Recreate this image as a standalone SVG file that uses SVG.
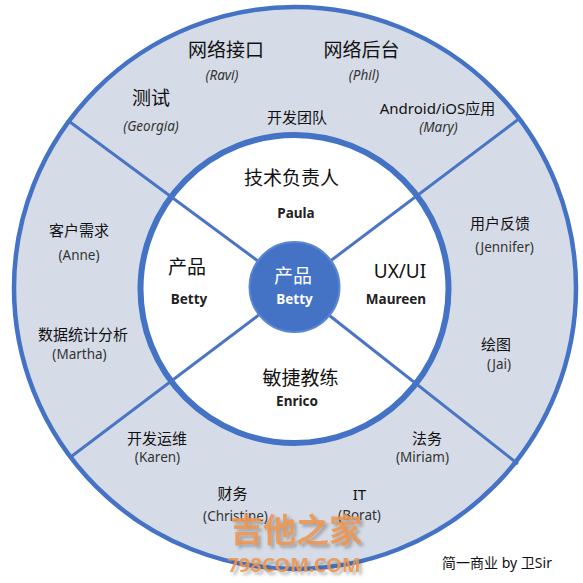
<svg xmlns="http://www.w3.org/2000/svg" width="583" height="583" viewBox="0 0 583 583">
<style>
text{font-family:"Noto Sans","Noto Sans CJK SC",sans-serif;fill:#111;text-anchor:middle;dominant-baseline:central}
.t19{font-size:19px}
.t15{font-size:15px}
.t14{font-size:14px}
.it{font-size:13.5px;font-style:italic;fill:#333}
.nm{font-size:13.5px;fill:#333}
.bd{font-size:13.5px;font-weight:bold;fill:#222}
.wh{fill:#fff}
.ln{stroke:#4a74c4;stroke-width:3;fill:none}
.wm{font-weight:bold;fill:#ec9550;fill-opacity:0.88;filter:url(#shadow)}
</style>
<defs>
<filter id="shadow" x="-10%" y="-30%" width="130%" height="170%">
<feDropShadow dx="3" dy="3" stdDeviation="1.5" flood-color="#555" flood-opacity="0.45"/>
</filter>
</defs>
<rect width="583" height="583" fill="#fff"/>
<g id="outer-ring">
<circle cx="295" cy="288" r="281" fill="#d6dce7" stroke="#4472c4" stroke-width="4.5"/>
</g>
<g id="inner-ring">
<circle cx="294.5" cy="289" r="154" fill="#fff" stroke="#4472c4" stroke-width="6"/>
</g>
<g id="connectors">
<line class="ln" x1="294.5" y1="288" x2="70" y2="122"/>
<line class="ln" x1="294.5" y1="288" x2="520" y2="118"/>
<line class="ln" x1="294.5" y1="288" x2="72" y2="456"/>
<line class="ln" x1="294.5" y1="288" x2="518" y2="464"/>
</g>
<g id="center">
<circle cx="294.5" cy="287" r="45" fill="#4472c4" stroke="#5b86d3" stroke-width="2"/>
<text class="t19 wh" x="293" y="276">产品</text>
<text class="bd wh" x="294.5" y="299">Betty</text>
</g>
<g id="dev-team">
<text class="t15" x="297" y="117">开发团队</text>
</g>
<g id="net-api">
<text class="t19" x="226" y="50">网络接口</text>
<text class="it" x="222" y="75">(Ravi)</text>
</g>
<g id="net-backend">
<text class="t19" x="361.5" y="50">网络后台</text>
<text class="it" x="364" y="75">(Phil)</text>
</g>
<g id="test">
<text class="t19" x="151" y="98">测试</text>
<text class="it" x="151" y="126">(Georgia)</text>
</g>
<g id="mobile">
<text class="t15" x="437.5" y="108">Android/iOS应用</text>
<text class="it" x="438.5" y="127">(Mary)</text>
</g>
<g id="tech-lead">
<text class="t19" x="291.5" y="178">技术负责人</text>
<text class="bd" x="296" y="213">Paula</text>
</g>
<g id="product">
<text class="t19" x="187" y="267">产品</text>
<text class="bd" x="189" y="299">Betty</text>
</g>
<g id="uxui">
<text class="t19" x="400" y="271">UX/UI</text>
<text class="bd" x="396" y="299">Maureen</text>
</g>
<g id="coach">
<text class="t19" x="300.5" y="378">敏捷教练</text>
<text class="bd" x="297" y="401">Enrico</text>
</g>
<g id="customer">
<text class="t15" x="79" y="230">客户需求</text>
<text class="nm" x="79" y="255">(Anne)</text>
</g>
<g id="analytics">
<text class="t15" x="83" y="334">数据统计分析</text>
<text class="nm" x="79.5" y="354">(Martha)</text>
</g>
<g id="feedback">
<text class="t15" x="500" y="223">用户反馈</text>
<text class="nm" x="504.5" y="247">(Jennifer)</text>
</g>
<g id="drawing">
<text class="t15" x="496" y="344">绘图</text>
<text class="nm" x="499" y="364">(Jai)</text>
</g>
<g id="devops">
<text class="t15" x="157" y="438">开发运维</text>
<text class="nm" x="157.5" y="457">(Karen)</text>
</g>
<g id="legal">
<text class="t15" x="427" y="438">法务</text>
<text class="nm" x="422.5" y="457">(Miriam)</text>
</g>
<g id="finance">
<text class="t15" x="232.5" y="493">财务</text>
<text class="nm" x="235.5" y="516">(Christine)</text>
</g>
<g id="it">
<text class="t15" x="359.5" y="494">IT</text>
<text class="nm" x="359.5" y="515">(Borat)</text>
</g>
<g id="watermark">
<text class="wm" x="296" y="529" font-size="33">吉他之家</text>
<text class="wm" x="294" y="564" font-size="20">798COM.COM</text>
</g>
<g id="credit">
<text class="t14" x="497" y="562">简一商业 by 卫Sir</text>
</g>
</svg>
